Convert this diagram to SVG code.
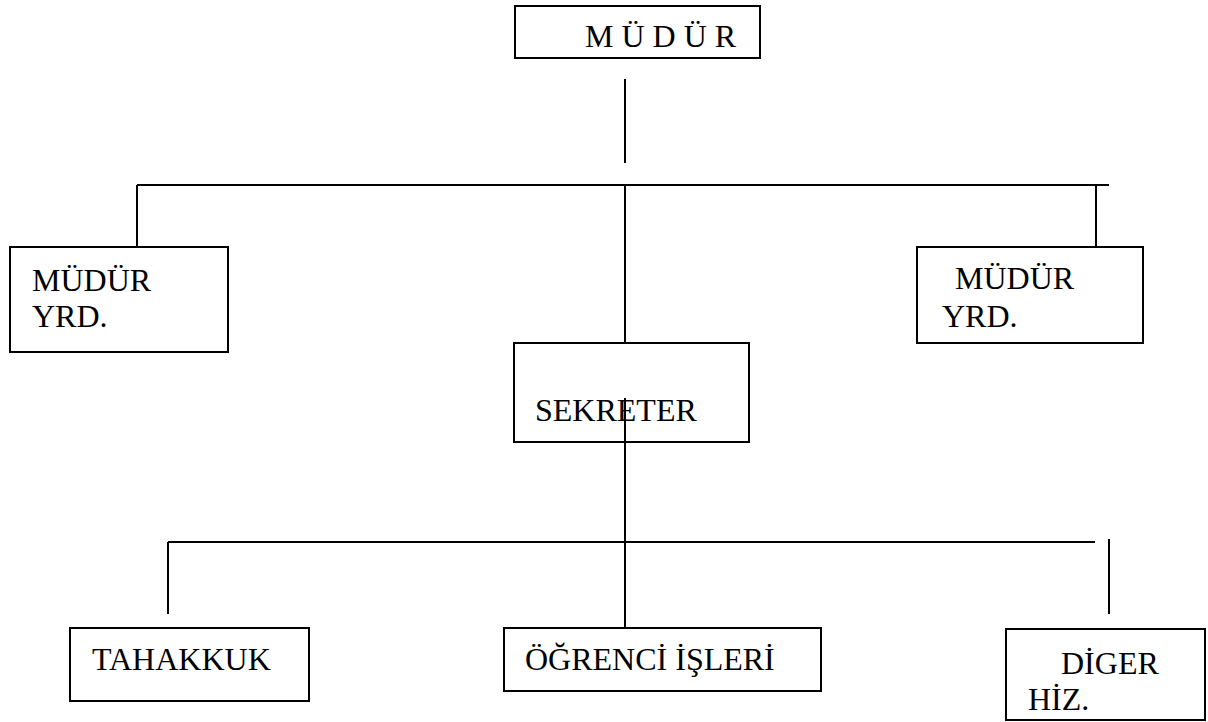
<svg xmlns="http://www.w3.org/2000/svg" width="1208" height="722" viewBox="0 0 1208 722">
<style>
.box{fill:#fff;stroke:#000;stroke-width:2}
.ln{stroke:#000;stroke-width:2;fill:none}
.t{font-family:'Liberation Serif','Times New Roman','DejaVu Serif',serif;font-size:32px;fill:#000}
</style>
<rect width="1208" height="722" fill="#fff"/>
<g id="connectors">
<line class="ln" x1="625" y1="79" x2="625" y2="163"/>
<line class="ln" x1="137" y1="185" x2="1109" y2="185"/>
<line class="ln" x1="137" y1="185" x2="137" y2="247"/>
<line class="ln" x1="1096" y1="185" x2="1096" y2="247"/>
<line class="ln" x1="625" y1="185" x2="625" y2="343"/>
<line class="ln" x1="168" y1="542" x2="1095" y2="542"/>
<line class="ln" x1="168" y1="542" x2="168" y2="614"/>
<line class="ln" x1="1109" y1="539" x2="1109" y2="614"/>
</g>
<g id="mudur"><rect class="box" x="515" y="6" width="245" height="52"/><text class="t" font-family="Liberation Serif, serif" x="585" y="47">M Ü D Ü R</text></g>
<g id="yrd1"><rect class="box" x="10" y="247" width="218" height="105"/><text class="t" font-family="Liberation Serif, serif" x="32" y="291">MÜDÜR</text><text class="t" font-family="Liberation Serif, serif" x="32" y="327">YRD.</text></g>
<g id="yrd2"><rect class="box" x="917" y="247" width="226" height="96"/><text class="t" font-family="Liberation Serif, serif" x="955" y="289">MÜDÜR</text><text class="t" font-family="Liberation Serif, serif" x="942" y="327">YRD.</text></g>
<g id="sekreter"><rect class="box" x="514" y="343" width="235" height="99"/><text class="t" font-family="Liberation Serif, serif" x="535" y="421">SEKRETER</text></g>
<g id="tahakkuk"><rect class="box" x="70" y="628" width="239" height="73"/><text class="t" font-family="Liberation Serif, serif" x="92" y="670">TAHAKKUK</text></g>
<g id="ogrenci"><rect class="box" x="504" y="628" width="317" height="63"/><text class="t" font-family="Liberation Serif, serif" x="525" y="670">ÖĞRENCİ İŞLERİ</text></g>
<g id="diger"><rect class="box" x="1006" y="629" width="199" height="91"/><text class="t" font-family="Liberation Serif, serif" x="1061" y="674">DİGER</text><text class="t" font-family="Liberation Serif, serif" x="1028" y="710">HİZ.</text></g>
<line class="ln" x1="625" y1="398" x2="625" y2="628"/>
</svg>
